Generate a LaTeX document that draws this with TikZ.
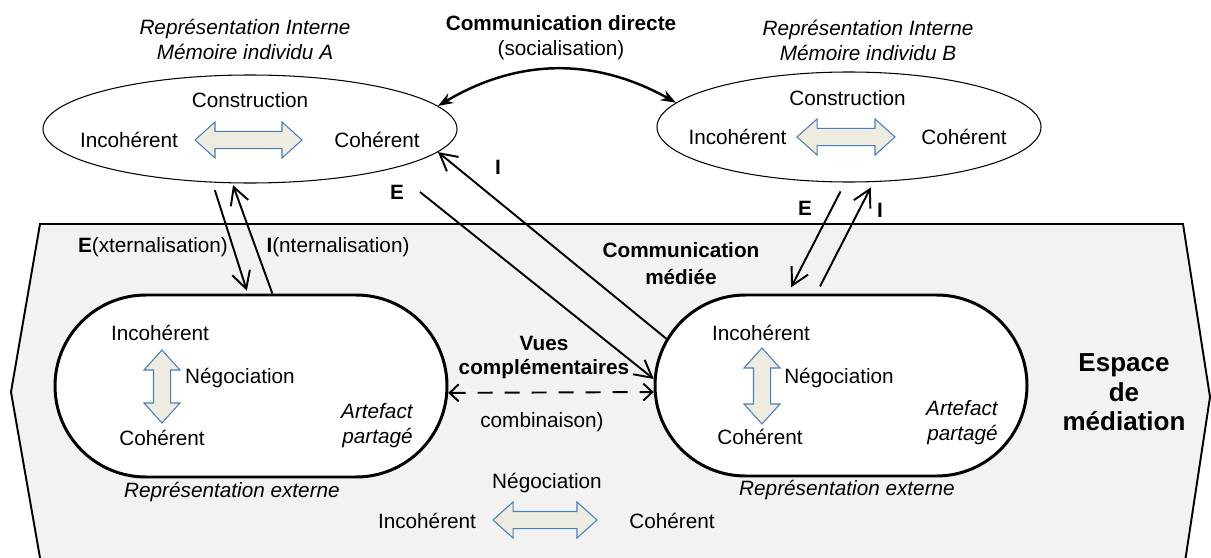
\documentclass[tikz,border=0pt]{standalone}
\usepackage{fontspec}
\setmainfont{Liberation Sans}
\usetikzlibrary{arrows.meta, shapes.geometric, shapes.misc, shapes.arrows}

\definecolor{mediation}{HTML}{F2F2F2}
\definecolor{arrowblue}{HTML}{4A7EBB}
\definecolor{arrowfill}{HTML}{EEECE1}

\tikzset{
  memoire/.style={ellipse, draw, line width=0.6pt, fill=white},
  artefact/.style={rounded rectangle, draw, line width=1.7pt, fill=white},
  dblarrow/.style={double arrow, draw=arrowblue, fill=arrowfill, line width=0.6pt,
    inner xsep=0pt, inner ysep=1.6mm, minimum width=7mm,
    double arrow head extend=1.9mm, double arrow tip angle=84},
  flux/.style={line width=1.1pt, -{Straight Barb[length=3.4mm,width=3.7mm]}},
}

\begin{document}
\begin{tikzpicture}[x=0.2mm, y=-0.2mm,
  every node/.style={inner sep=0pt, align=center, font=\fontsize{11.8}{14.2}\selectfont}]
\useasboundingbox (0,0) rectangle (1211,558);
\clip (0,0) rectangle (1211,558);

% espace de mediation
\draw [fill=mediation, line width=1.1pt] (40,224) -- (1183,224) -- (1210,397) -- (1183,575)
  -- (43,575) -- (11,392) -- cycle;
\node [font=\fontsize{14.8}{16.7}\selectfont\bfseries] (espace) at (1124,392.5) {Espace\\de\\médiation};

% memoire individu A
\node [memoire, minimum width=82.8mm, minimum height=21.6mm] (elA) at (250,129) {};
\node [font=\fontsize{11.8}{14.2}\selectfont\itshape] (titreA) at (245,39.5) {Représentation Interne\\Mémoire individu A};
\node (consA) at (250,100) {Construction};
\node (incA) at (129,140) {Incohérent};
\node (cohA) at (377,140) {Cohérent};
\node [dblarrow, minimum height=21.4mm] (flecheA) at (248.5,140) {};

% memoire individu B
\node [memoire, minimum width=76.8mm, minimum height=22mm] (elB) at (849,127) {};
\node [font=\fontsize{11.8}{14.2}\selectfont\itshape] (titreB) at (868,40.5) {Représentation Interne\\Mémoire individu B};
\node (consB) at (847.5,98) {Construction};
\node (incB) at (737.5,137) {Incohérent};
\node (cohB) at (964,137) {Cohérent};
\node [dblarrow, minimum height=19.6mm] (flecheB) at (846,137) {};

% communication directe
\node [font=\fontsize{11.8}{14.2}\selectfont\bfseries] (comDir) at (561,23) {Communication directe};
\node (socia) at (561,50) {(socialisation)};
\draw [line width=1.4pt, {Stealth[length=3mm,width=2.2mm]}-{Stealth[length=3mm,width=2.2mm]}]
  (elA.7) to[bend left=30] (elB.172);

% artefact A
\node [artefact, minimum width=78.4mm, minimum height=36.4mm] (artA) at (251,386) {};
\node (incArtA) at (160,333) {Incohérent};
\node [dblarrow, minimum height=14.6mm, rotate=90] (flecheArtA) at (162,386.5) {};
\node (negoA) at (240,378) {Négociation};
\node (cohArtA) at (162,438) {Cohérent};
\node [anchor=east, align=right, font=\fontsize{11.8}{14.2}\selectfont\itshape] (partA) at (413,425.5) {Artefact\\partagé};
\node [font=\fontsize{11.8}{14.2}\selectfont\itshape] (extA) at (232,492) {Représentation externe};

% artefact B
\node [artefact, minimum width=74.4mm, minimum height=36.2mm] (artB) at (841,385.5) {};
\node (incArtB) at (761,333) {Incohérent};
\node [dblarrow, minimum height=15.2mm, rotate=90] (flecheArtB) at (762,386) {};
\node (negoB) at (839,378) {Négociation};
\node (cohArtB) at (760,437) {Cohérent};
\node [anchor=east, align=right, font=\fontsize{11.8}{14.2}\selectfont\itshape] (partB) at (998,422.5) {Artefact\\partagé};
\node [font=\fontsize{11.8}{14.2}\selectfont\itshape] (extB) at (847,490) {Représentation externe};

% externalisation / internalisation
\draw [flux, shorten <=1.6mm, shorten >=0.6mm] (elA.235) -- (artA.92.5);
\draw [flux, shorten >=0.4mm] (artA.77) -- (elA.252.5);
\draw [flux, shorten <=2mm, shorten >=1.4mm] (elB.266) -- (artB.120);
\draw [flux, shorten <=1.6mm, shorten >=1.2mm] (artB.105) -- (elB.294);
\node (extLab) at (153,247) {\textbf{E}(xternalisation)};
\node (intLab) at (338,247) {\textbf{I}(nternalisation)};
\node [font=\fontsize{11.8}{14.2}\selectfont\bfseries] (eB) at (805,208) {E};
\node [font=\fontsize{11.8}{14.2}\selectfont\bfseries] (iB) at (880,210) {I};

% communication mediee
\coordinate (depE) at (420,192);
\draw [flux] (depE) -- (artB.178);
\draw [flux] (artB.165) -- (elA.-7);
\node [font=\fontsize{11.8}{14.2}\selectfont\bfseries] (eMid) at (397,192) {E};
\node [font=\fontsize{11.8}{14.2}\selectfont\bfseries] (iMid) at (498,167) {I};
\node [font=\fontsize{11.8}{15.3}\selectfont\bfseries] (comMed) at (681,263.5) {Communication\\médiée};

% vues complementaires
\draw [line width=1.1pt, dash pattern=on 3mm off 2.4mm,
  {Straight Barb[length=1.8mm,width=3.4mm]}-{Straight Barb[length=1.8mm,width=3.4mm]}]
  (artA.-2) -- (artB.182);
\node [font=\fontsize{11.8}{14.2}\selectfont\bfseries] (vues) at (544,357.5) {Vues\\complémentaires};
\node (combi) at (542,422) {combinaison)};

% negociation commune
\node (negoC) at (547,483) {Négociation};
\node (incC) at (427,521) {Incohérent};
\node (cohC) at (672,521) {Cohérent};
\node [dblarrow, minimum height=20.8mm] (flecheC) at (545,520) {};
\end{tikzpicture}
\end{document}
